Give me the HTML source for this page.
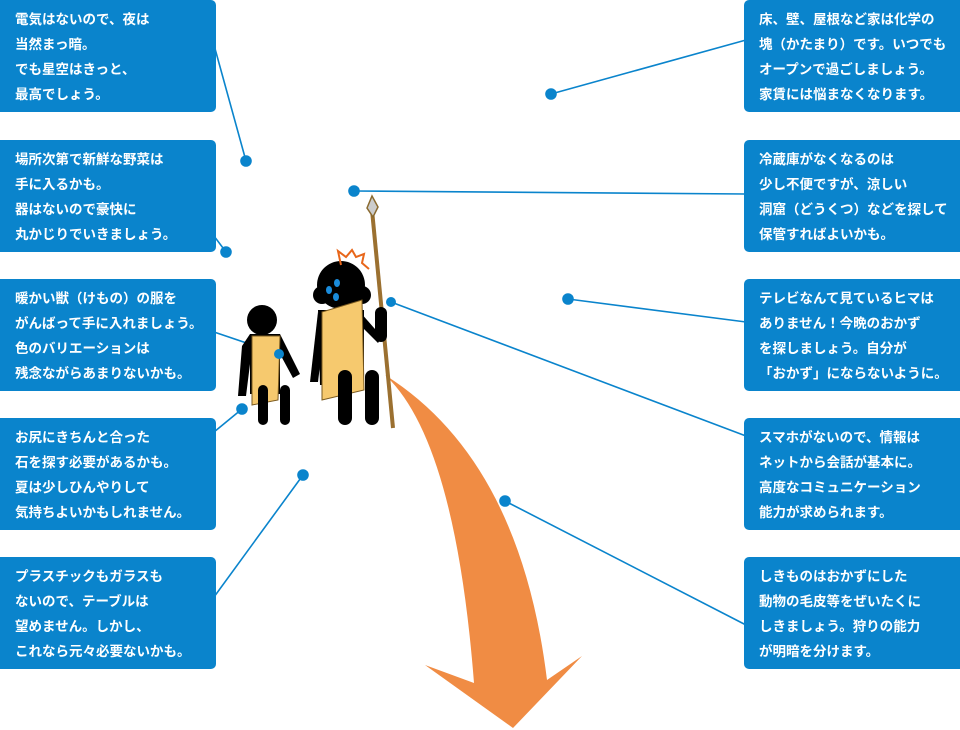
<!DOCTYPE html>
<html><head><meta charset="utf-8"><style>
body{margin:0;width:960px;height:730px;background:#fff;position:relative;overflow:hidden;font-family:"Liberation Sans","Noto Sans CJK JP",sans-serif}
.b{position:absolute;width:216px;height:112px;background:#0a84cc;color:#fff;font-size:13.5px;line-height:25px;box-sizing:border-box;padding:7px 0 0 15px;font-weight:bold;white-space:nowrap}
.l{left:0;border-radius:0 5px 5px 0}
.r{left:744px;border-radius:5px 0 0 5px}
svg{position:absolute;left:0;top:0}
</style></head><body>
<svg width="960" height="730">
<g stroke="#0a84cc" stroke-width="1.6" fill="#0a84cc">
<line x1="214" y1="45" x2="246" y2="161"/><circle cx="246" cy="161" r="5"/>
<line x1="214" y1="236" x2="226" y2="252"/><circle cx="226" cy="252" r="5"/>
<line x1="214" y1="332" x2="279" y2="354"/>
<line x1="214" y1="432" x2="242" y2="409"/><circle cx="242" cy="409" r="5"/>
<line x1="214" y1="597" x2="303" y2="475"/><circle cx="303" cy="475" r="5"/>
<line x1="746" y1="40" x2="551" y2="94"/><circle cx="551" cy="94" r="5"/>
<line x1="746" y1="194" x2="354" y2="191"/><circle cx="354" cy="191" r="5"/>
<line x1="746" y1="322" x2="568" y2="299"/><circle cx="568" cy="299" r="5"/>
<line x1="746" y1="436" x2="391" y2="302"/>
<line x1="746" y1="625" x2="505" y2="501"/><circle cx="505" cy="501" r="5"/>
</g>
<path d="M385 375 Q455 440 474 683 L425 665 L513 728 L582 656 L547 680 Q520 460 385 375Z" fill="#f08c44"/>
<!-- spear -->
<line x1="372" y1="210" x2="393" y2="428" stroke="#9b7030" stroke-width="4"/>
<path d="M372 196 L378 207 L373 217 L367 208Z" fill="#ccc" stroke="#8a6a30" stroke-width="1.5"/>
<!-- child -->
<circle cx="262" cy="320" r="15" fill="#000"/>
<path d="M250 334 h30 l20 40 -7 4 -13 -24 v40 h-30 v-30 l-4 32 h-8 l4 -50z" fill="#000"/>
<path d="M252 336 h28 l-2 64 -26 5z" fill="#f6c96e" stroke="#7a5a20" stroke-width="1"/>
<rect x="258" y="385" width="10" height="40" rx="5" fill="#000"/><rect x="280" y="385" width="10" height="40" rx="5" fill="#000"/>
<!-- adult -->
<circle cx="341" cy="285" r="24" fill="#000"/>
<circle cx="322" cy="295" r="9" fill="#000"/><circle cx="362" cy="295" r="9" fill="#000"/>
<path d="M318 310 h46 v75 h-44z" fill="#000"/>
<path d="M318 312 l-8 70 h8 l6 -50z" fill="#000"/>
<path d="M360 312 l22 25 -4 6 -20 -20z" fill="#000"/>
<rect x="375" y="307" width="12" height="35" rx="6" fill="#000"/>
<path d="M322 312 l40 -12 l2 90 l-42 10z" fill="#f6c96e" stroke="#7a5a20" stroke-width="1"/>
<rect x="338" y="370" width="14" height="55" rx="7" fill="#000"/><rect x="365" y="370" width="14" height="55" rx="7" fill="#000"/>
<path d="M341 265 l-3 -14 8 6 6 -7 4 7 8 -3 -2 9 7 6" fill="none" stroke="#e8661a" stroke-width="2"/>
<g fill="#1a8cdc"><ellipse cx="329" cy="290" rx="3" ry="4"/><ellipse cx="337" cy="283" rx="3" ry="4"/><ellipse cx="336" cy="297" rx="3" ry="4"/></g>
<circle cx="279" cy="354" r="5" fill="#0a84cc"/><circle cx="391" cy="302" r="5" fill="#0a84cc"/>
</svg>
<div class="b l" style="top:0">電気はないので、夜は<br>当然まっ暗。<br>でも星空はきっと、<br>最高でしょう。</div>
<div class="b l" style="top:140px">場所次第で新鮮な野菜は<br>手に入るかも。<br>器はないので豪快に<br>丸かじりでいきましょう。</div>
<div class="b l" style="top:279px">暖かい獣（けもの）の服を<br>がんばって手に入れましょう。<br>色のバリエーションは<br>残念ながらあまりないかも。</div>
<div class="b l" style="top:418px">お尻にきちんと合った<br>石を探す必要があるかも。<br>夏は少しひんやりして<br>気持ちよいかもしれません。</div>
<div class="b l" style="top:557px">プラスチックもガラスも<br>ないので、テーブルは<br>望めません。しかし、<br>これなら元々必要ないかも。</div>
<div class="b r" style="top:0">床、壁、屋根など家は化学の<br>塊（かたまり）です。いつでも<br>オープンで過ごしましょう。<br>家賃には悩まなくなります。</div>
<div class="b r" style="top:140px">冷蔵庫がなくなるのは<br>少し不便ですが、涼しい<br>洞窟（どうくつ）などを探して<br>保管すればよいかも。</div>
<div class="b r" style="top:279px">テレビなんて見ているヒマは<br>ありません！今晩のおかず<br>を探しましょう。自分が<br>「おかず」にならないように。</div>
<div class="b r" style="top:418px">スマホがないので、情報は<br>ネットから会話が基本に。<br>高度なコミュニケーション<br>能力が求められます。</div>
<div class="b r" style="top:557px">しきものはおかずにした<br>動物の毛皮等をぜいたくに<br>しきましょう。狩りの能力<br>が明暗を分けます。</div>
</body></html>
